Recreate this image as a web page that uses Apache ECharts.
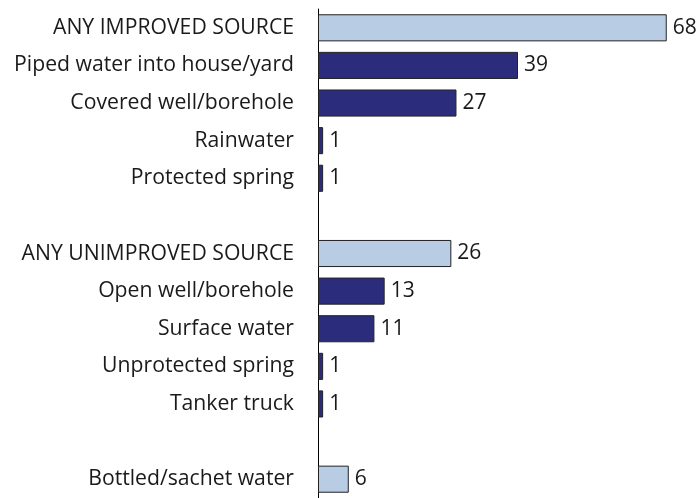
<!DOCTYPE html>
<html><head><meta charset="utf-8">
<script src="https://cdn.jsdelivr.net/npm/echarts@6/dist/echarts.min.js"></script>
<style>html,body{margin:0;padding:0;background:#fff}#c{width:699px;height:498px}</style>
</head><body><div id="c"></div>
<script>
const categories = ["ANY IMPROVED SOURCE","Piped water into house/yard","Covered well/borehole","Rainwater","Protected spring","","ANY UNIMPROVED SOURCE","Open well/borehole","Surface water","Unprotected spring","Tanker truck","","Bottled/sachet water"];
const values = [68,39,27,1,1,null,26,13,11,1,1,null,6];
const isTotal = [true,false,false,false,false,false,true,false,false,false,false,false,true];
const LIGHT = "#b8cce4", DARK = "#2b2d7c";
const chart = echarts.init(document.getElementById('c'), null, {renderer:'canvas'});
chart.setOption({
  animation:false,
  grid:{left:318, right:22, top:9, bottom:-1, containLabel:false},
  xAxis:{type:'value', min:0, max:70, show:false},
  yAxis:{type:'category', data:categories, inverse:true,
    axisLine:{show:true, lineStyle:{color:'#000', width:1}},
    axisTick:{show:false},
    axisLabel:{color:'#1a1a1a', fontFamily:'Open Sans', fontSize:21.2, margin:24}},
  series:[{type:'bar', barCategoryGap:'28%',
    data: values.map((v,i)=>({value:v, itemStyle:{color:isTotal[i]?LIGHT:DARK, borderColor:'#222', borderWidth:1}})),
    label:{show:true, position:'right', distance:6, color:'#1a1a1a', fontFamily:'Open Sans', fontSize:21}
  }]
});
</script></body></html>
